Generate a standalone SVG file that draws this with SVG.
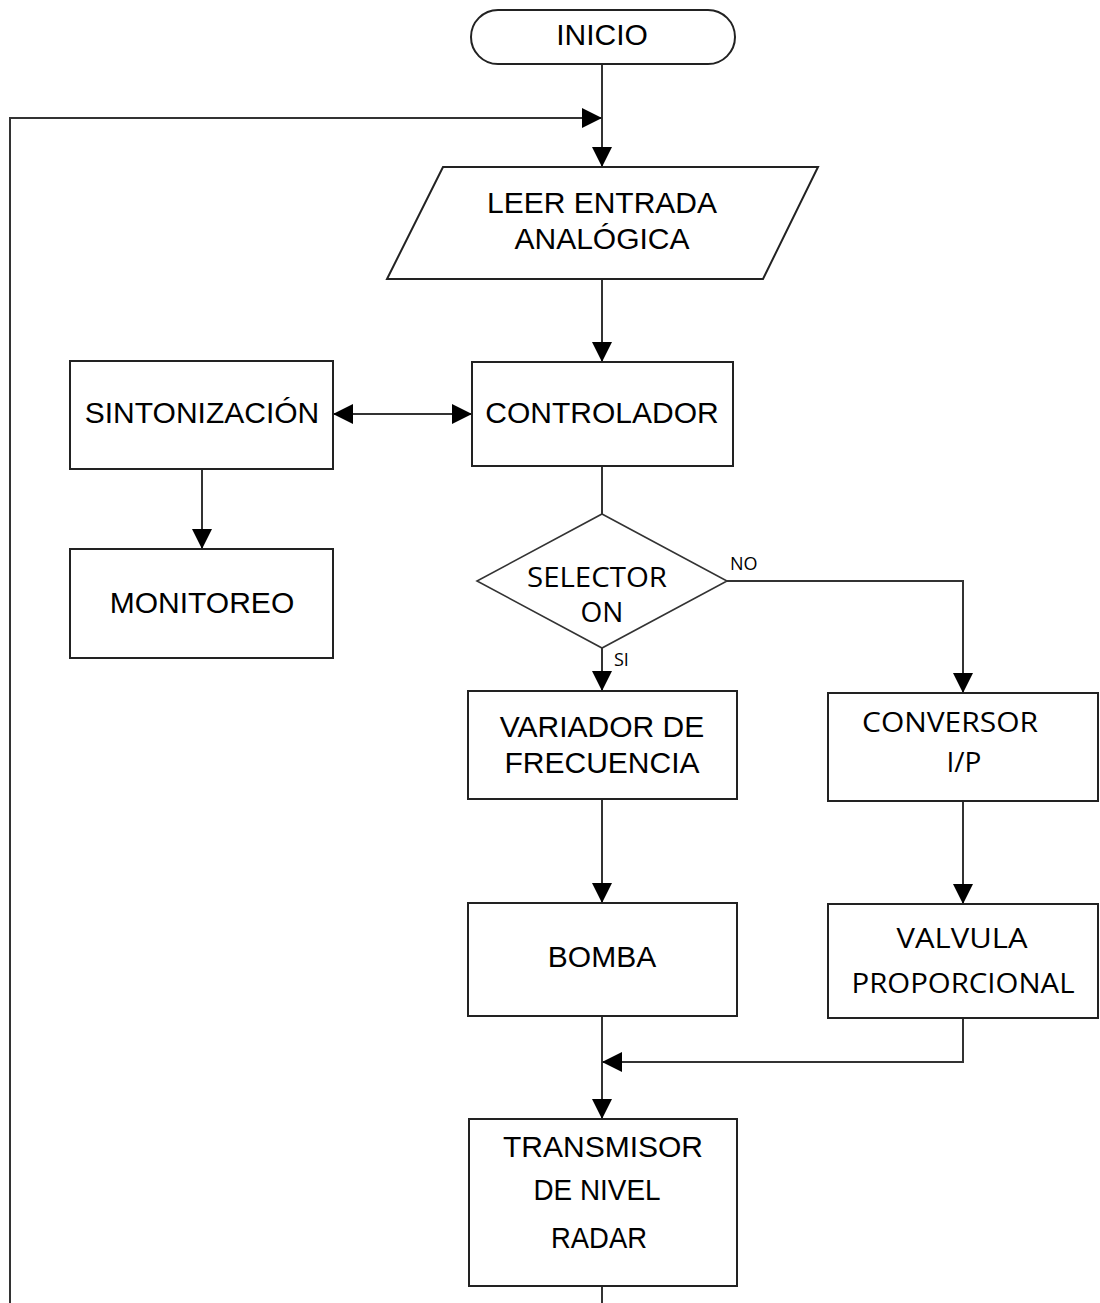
<svg xmlns="http://www.w3.org/2000/svg" width="1100" height="1303" viewBox="0 0 1100 1303">
<style>
.box{fill:#fff;stroke:#222;stroke-width:2}
.dia{fill:#fff;stroke:#333;stroke-width:1.6}
.ln{fill:none;stroke:#333;stroke-width:2}
.a{font-family:"Liberation Sans",Arial,sans-serif;font-size:30px;fill:#000;text-anchor:middle}
.c{font-family:"Open Sans","Noto Sans",sans-serif;font-size:28px;fill:#000;text-anchor:middle}
.s{font-family:"Open Sans","Noto Sans",sans-serif;font-size:18px;fill:#000}
</style>
<defs>
<marker id="ah" markerUnits="userSpaceOnUse" markerWidth="20" markerHeight="20" viewBox="0 0 20 20" refX="20" refY="10" orient="auto-start-reverse">
<path d="M0,0 L20,10 L0,20 z" fill="#000"/>
</marker>
</defs>
<rect width="1100" height="1303" fill="#fff"/>
<g id="connectors">
<path class="ln" d="M602,64 V167" marker-end="url(#ah)"/>
<path class="ln" d="M602,1286 V1320 H10 V118 H602" marker-end="url(#ah)"/>
<path class="ln" d="M602,279 V362" marker-end="url(#ah)"/>
<path class="ln" d="M333,414 H472" marker-start="url(#ah)" marker-end="url(#ah)"/>
<path class="ln" d="M202,469 V549" marker-end="url(#ah)"/>
<path class="ln" d="M602,466 V514"/>
<path class="ln" d="M602,648 V691" marker-end="url(#ah)"/>
<path class="ln" d="M727,581 H963 V693" marker-end="url(#ah)"/>
<path class="ln" d="M602,799 V903" marker-end="url(#ah)"/>
<path class="ln" d="M963,801 V904" marker-end="url(#ah)"/>
<path class="ln" d="M602,1016 V1119" marker-end="url(#ah)"/>
<path class="ln" d="M963,1018 V1062 H602" marker-end="url(#ah)"/>
<text class="s" x="730" y="570">NO</text>
<text class="s" x="614" y="666">SI</text>
</g>
<g id="inicio">
<rect class="box" x="471" y="10" width="264" height="54" rx="27" ry="27"/>
<text class="a" x="602" y="45">INICIO</text>
</g>
<g id="leer">
<polygon class="box" points="443,167 818,167 763,279 387,279"/>
<text class="a" x="602" y="213">LEER ENTRADA</text>
<text class="a" x="602" y="249">ANALÓGICA</text>
</g>
<g id="sintonizacion">
<rect class="box" x="70" y="361" width="263" height="108"/>
<text class="a" x="202" y="423">SINTONIZACIÓN</text>
</g>
<g id="monitoreo">
<rect class="box" x="70" y="549" width="263" height="109"/>
<text class="a" x="202" y="613">MONITOREO</text>
</g>
<g id="controlador">
<rect class="box" x="472" y="362" width="261" height="104"/>
<text class="a" x="602" y="423">CONTROLADOR</text>
</g>
<g id="selector">
<polygon class="dia" points="602,514 727,581 602,648 477,581"/>
<text class="c" x="597" y="587" textLength="140" lengthAdjust="spacingAndGlyphs">SELECTOR</text>
<text class="c" x="602" y="622">ON</text>
</g>
<g id="variador">
<rect class="box" x="468" y="691" width="269" height="108"/>
<text class="a" x="602" y="737">VARIADOR DE</text>
<text class="a" x="602" y="773">FRECUENCIA</text>
</g>
<g id="conversor">
<rect class="box" x="828" y="693" width="270" height="108"/>
<text class="c" x="950" y="732" textLength="176" lengthAdjust="spacingAndGlyphs">CONVERSOR</text>
<text class="c" x="964" y="772">I/P</text>
</g>
<g id="bomba">
<rect class="box" x="468" y="903" width="269" height="113"/>
<text class="a" x="602" y="967">BOMBA</text>
</g>
<g id="valvula">
<rect class="box" x="828" y="904" width="270" height="114"/>
<text class="c" x="962" y="948" textLength="131" lengthAdjust="spacingAndGlyphs">VALVULA</text>
<text class="c" x="963" y="993" textLength="223" lengthAdjust="spacingAndGlyphs">PROPORCIONAL</text>
</g>
<g id="transmisor">
<rect class="box" x="469" y="1119" width="268" height="167"/>
<text class="a" x="603" y="1157" textLength="200" lengthAdjust="spacingAndGlyphs">TRANSMISOR</text>
<text class="a" x="597" y="1200" textLength="127" lengthAdjust="spacingAndGlyphs">DE NIVEL</text>
<text class="a" x="599" y="1248" textLength="96" lengthAdjust="spacingAndGlyphs">RADAR</text>
</g>
</svg>
